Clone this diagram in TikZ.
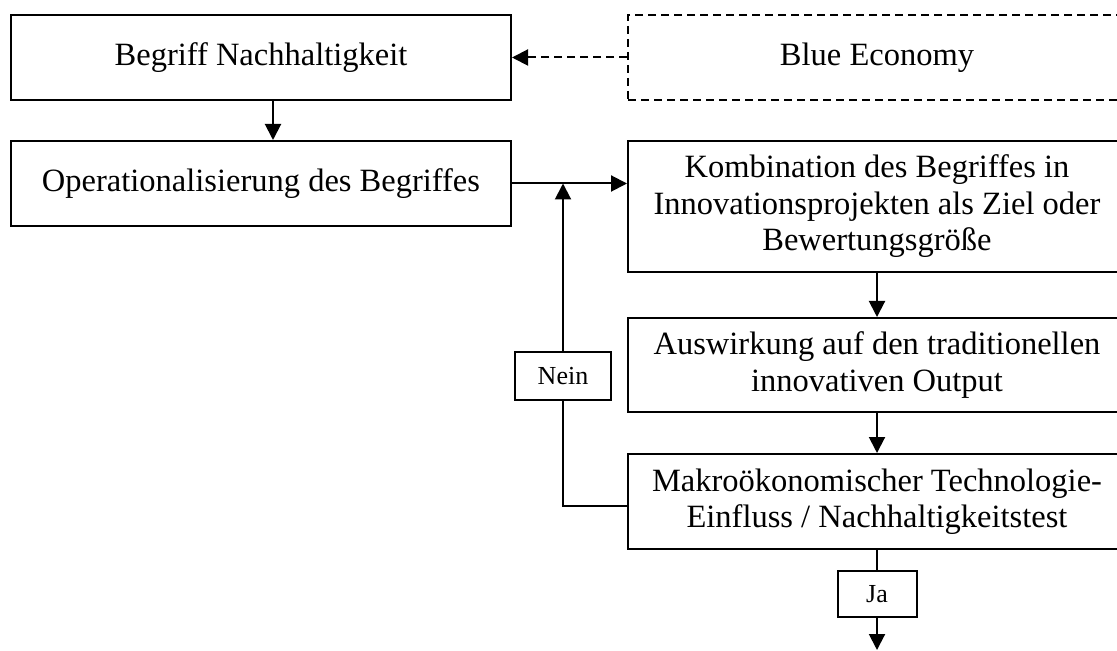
\documentclass[tikz,border=0pt]{standalone}
\usepackage{fontspec}
\setmainfont{Liberation Serif}
\usepackage{tikz}
\usetikzlibrary{positioning,arrows.meta,calc}
\tikzset{
  >={Triangle[length=8pt,width=8pt]},
  every node/.style={font=\fontsize{16.25}{18.25}\selectfont},
  % --- nodes
  box/.style   = {draw=black, line width=1pt, fill=white, align=center,
                  inner sep=0pt, minimum width=249pt},
  dbox/.style  = {box, dash pattern=on 4pt off 2.5pt},
  lab/.style   = {draw=black, line width=1pt, fill=white, inner sep=0pt,
                  font=\fontsize{13}{15}\selectfont},
  % --- edges
  e/.style     = {->, line width=1pt, draw=black},
  ln/.style    = {line width=1pt, draw=black},
}

\begin{document}
\begin{tikzpicture}[x=0.5pt,y=-0.5pt]
  \clip (0,0) rectangle (1117,651);

  \node[box, minimum width=250pt, minimum height=42.5pt] (begr) at (261,57.5) {Begriff Nachhaltigkeit};
  \node[dbox, minimum height=42.5pt] (blue) at (877,57.5) {Blue Economy};
  \node[box, minimum width=250pt, minimum height=42.5pt] (oper) at (261,183.5) {Operationalisierung des Begriffes};

  \node[box, minimum height=65.5pt] (komb) at (877,206.5) {Kombination des Begriffes in\\Innovationsprojekten als Ziel oder\\Bewertungsgröße};
  \node[box, minimum height=47pt] (ausw) at (877,365) {Auswirkung auf den traditionellen\\innovativen Output};
  \node[box, minimum height=47.5pt] (makro) at (877,501.5) {Makroökonomischer Technologie-\\Einfluss / Nachhaltigkeitstest};

  \node[lab, minimum width=48pt, minimum height=24pt] (nein) at (563,376) {Nein};
  \node[lab, minimum width=39.5pt, minimum height=23pt] (ja) at (877,594) {Ja};
  \coordinate (out) at (877,650);

  \draw[e, dash pattern=on 4pt off 2.5pt] (blue.west) -- (begr.east);
  \draw[e] ([xshift=6pt]begr.south) -- ([xshift=6pt]oper.north);
  \draw[e] (oper.east) -- (oper.east -| komb.west);
  \draw[e] (komb) -- (ausw);
  \draw[e] (ausw) -- (makro);
  \draw[ln] ([yshift=-2pt]makro.west) -| (nein.south);
  \draw[e] (nein.north) -- (nein |- oper.east);
  \draw[ln] (makro.south) -- (ja.north);
  \draw[e] (ja.south) -- (out);
\end{tikzpicture}
\end{document}
